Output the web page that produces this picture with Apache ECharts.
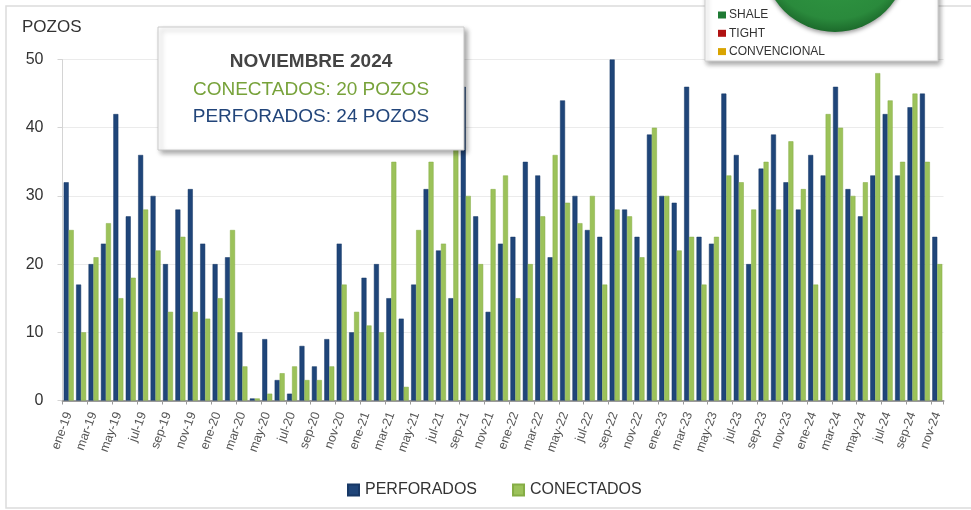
<!DOCTYPE html>
<html><head><meta charset="utf-8">
<script src="https://cdn.jsdelivr.net/npm/echarts@6/dist/echarts.min.js"></script>
<style>html,body{margin:0;padding:0;background:#fff}#c{width:971px;height:510px}</style>
</head><body><div id="c"></div>
<script>
const categories = [
 'ene-19','feb-19','mar-19','abr-19','may-19','jun-19','jul-19','ago-19','sep-19','oct-19','nov-19','dic-19',
 'ene-20','feb-20','mar-20','abr-20','may-20','jun-20','jul-20','ago-20','sep-20','oct-20','nov-20','dic-20',
 'ene-21','feb-21','mar-21','abr-21','may-21','jun-21','jul-21','ago-21','sep-21','oct-21','nov-21','dic-21',
 'ene-22','feb-22','mar-22','abr-22','may-22','jun-22','jul-22','ago-22','sep-22','oct-22','nov-22','dic-22',
 'ene-23','feb-23','mar-23','abr-23','may-23','jun-23','jul-23','ago-23','sep-23','oct-23','nov-23','dic-23',
 'ene-24','feb-24','mar-24','abr-24','may-24','jun-24','jul-24','ago-24','sep-24','oct-24','nov-24'
];
const perforados = [
 32,17,20,23,42,27,36,30,20,28,31,23,
 20,21,10,0.3,9,3,1,8,5,9,23,10,
 18,20,15,12,17,31,22,15,46,27,13,23,
 24,35,33,21,44,30,25,24,50,28,24,39,
 30,29,46,24,23,45,36,20,34,39,32,28,
 36,33,46,31,27,33,42,33,43,45,24
];
const conectados = [
 25,10,21,26,15,18,28,22,13,24,13,12,
 15,25,5,0.3,1,4,5,3,3,5,17,13,
 11,10,35,2,25,35,23,38,30,20,31,33,
 15,20,27,36,29,26,30,17,28,27,21,40,
 30,22,24,17,24,33,32,28,35,28,38,31,
 17,42,40,30,32,48,44,35,45,35,20
];
const yTicks = {min: 0, max: 50, interval: 10};
const infoTitle = 'NOVIEMBRE 2024';
const infoConectados = 'CONECTADOS: 20 POZOS';
const infoPerforados = 'PERFORADOS: 24 POZOS';
const pieLegend = ['SHALE', 'TIGHT', 'CONVENCIONAL'];
const pieLegendColors = ['#1f7a34', '#b01212', '#d9a400'];

const BLUE = '#1f4579';
const GREEN = '#9cc25a';
const FONT = '"Liberation Sans", Arial, sans-serif';

const chart = echarts.init(document.getElementById('c'), null, {renderer: 'canvas'});

const graphics = [
  {type: 'rect', silent: true, z: 0, shape: {x: 6, y: 6, width: 990, height: 502},
   style: {fill: 'none', stroke: '#dcdcdc', lineWidth: 1.5}},
  {type: 'text', z: 10, left: 22, top: 19, style: {text: 'POZOS', font: '17px ' + FONT, fill: '#333'}},
  // info box
  {type: 'rect', z: 50, shape: {x: 158, y: 27, width: 306, height: 123},
   style: {fill: '#fff', stroke: '#c9c9c9', lineWidth: 1, shadowBlur: 5, shadowOffsetX: 3, shadowOffsetY: 3, shadowColor: 'rgba(0,0,0,0.35)'}},
  {type: 'text', z: 51, x: 311, y: 62, style: {text: infoTitle, font: 'bold 19px ' + FONT, fill: '#444', align: 'center', verticalAlign: 'middle'}},
  {type: 'text', z: 51, x: 311, y: 90, style: {text: infoConectados, font: '19px ' + FONT, fill: '#77a23a', align: 'center', verticalAlign: 'middle'}},
  {type: 'text', z: 51, x: 311, y: 117, style: {text: infoPerforados, font: '19px ' + FONT, fill: '#22457a', align: 'center', verticalAlign: 'middle'}},
  // pie legend box
  {type: 'rect', z: 50, shape: {x: 705, y: -10, width: 233, height: 71},
   style: {fill: '#fff', stroke: '#d0d0d0', lineWidth: 1, shadowBlur: 5, shadowOffsetX: 2, shadowOffsetY: 3, shadowColor: 'rgba(0,0,0,0.35)'}},
  {type: 'circle', z: 51, shape: {cx: 835, cy: -40, r: 72},
   style: {fill: new echarts.graphic.RadialGradient(0.5, 0.4, 0.6, [{offset: 0, color: '#33a046'}, {offset: 0.85, color: '#2a8a3c'}, {offset: 1, color: '#1c6a2b'}]),
           shadowBlur: 4, shadowOffsetY: 2, shadowColor: 'rgba(0,0,0,0.4)'}}
];
pieLegend.forEach((t, i) => {
  const cy = 15 + i * 18.3;
  graphics.push({type: 'rect', z: 52, shape: {x: 718, y: cy - 3.5, width: 8, height: 7}, style: {fill: pieLegendColors[i]}});
  graphics.push({type: 'text', z: 52, x: 729, y: cy, style: {text: t, font: '12px ' + FONT, fill: '#333', verticalAlign: 'middle'}});
});

chart.setOption({
  animation: false,
  textStyle: {fontFamily: FONT},
  grid: {left: 62.5, right: 27.5, top: 59.5, bottom: 109.5, containLabel: false},
  legend: {
    left: 347, top: 482, padding: 0, itemWidth: 11, itemHeight: 11, itemGap: 35,
    icon: 'rect',
    textStyle: {fontSize: 16, color: '#333', padding: [0, 0, 0, 1]},
    data: ['PERFORADOS', 'CONECTADOS']
  },
  xAxis: {
    type: 'category', data: categories, boundaryGap: true,
    axisLine: {lineStyle: {color: '#9a9a9a', width: 2}},
    axisTick: {show: true, interval: 1, length: 4, lineStyle: {color: '#9a9a9a'}},
    axisLabel: {interval: 1, rotate: 70, fontSize: 12.5, color: '#555', margin: 12}
  },
  yAxis: {
    type: 'value', min: yTicks.min, max: yTicks.max, interval: yTicks.interval,
    axisLine: {show: true, lineStyle: {color: '#d4d4d4'}},
    axisTick: {show: true, length: 5, lineStyle: {color: '#d4d4d4'}},
    axisLabel: {fontSize: 16, color: '#333', margin: 19},
    splitLine: {lineStyle: {color: '#ebebeb'}}
  },
  series: [
    {name: 'PERFORADOS', type: 'bar', data: perforados, barWidth: 5, barGap: '0%',
     itemStyle: {color: BLUE, borderColor: '#173866', borderWidth: 0.5}},
    {name: 'CONECTADOS', type: 'bar', data: conectados, barWidth: 5,
     itemStyle: {color: GREEN, borderColor: '#85ad45', borderWidth: 0.5}}
  ],
  graphic: graphics
});
</script>
</body></html>
